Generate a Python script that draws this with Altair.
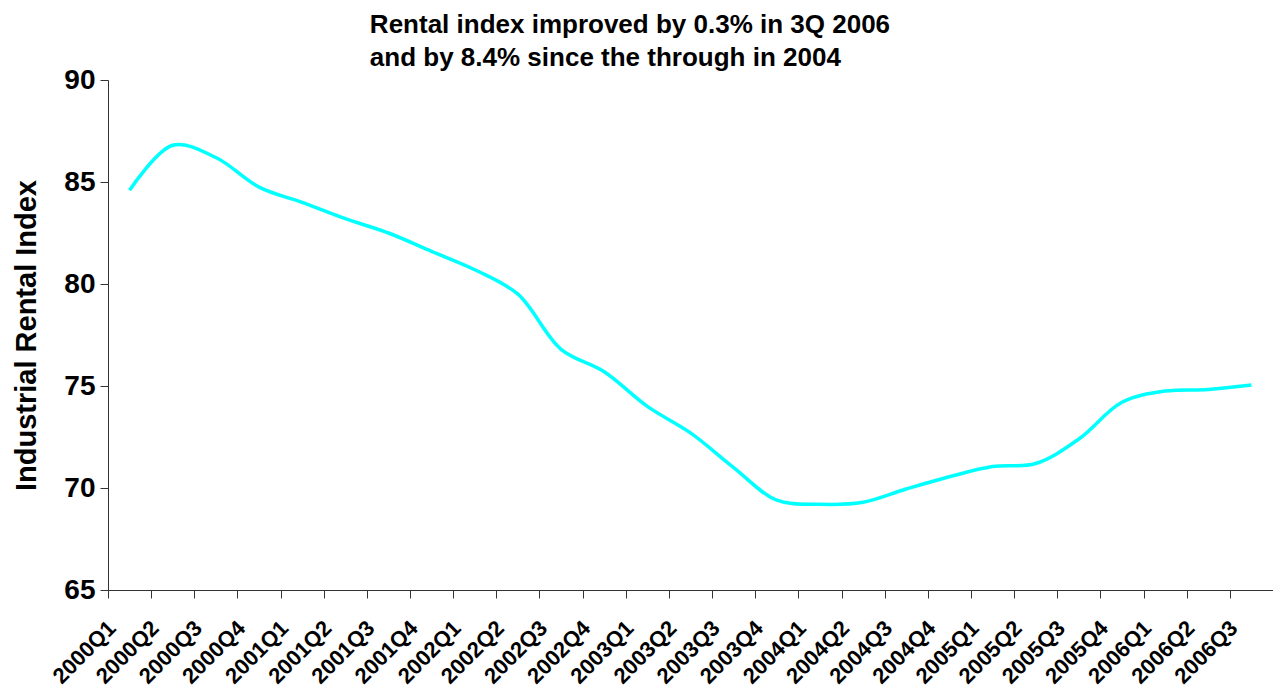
import altair as alt
import pandas as pd

quarters = [
    "2000Q1", "2000Q2", "2000Q3", "2000Q4",
    "2001Q1", "2001Q2", "2001Q3", "2001Q4",
    "2002Q1", "2002Q2", "2002Q3", "2002Q4",
    "2003Q1", "2003Q2", "2003Q3", "2003Q4",
    "2004Q1", "2004Q2", "2004Q3", "2004Q4",
    "2005Q1", "2005Q2", "2005Q3", "2005Q4",
    "2006Q1", "2006Q2", "2006Q3",
]
rental_index = [
    84.6, 86.8, 86.2, 84.75,
    84.0, 83.2, 82.5, 81.6,
    80.7, 79.5, 76.8, 75.7,
    74.0, 72.7, 71.0, 69.4,
    69.2, 69.3, 69.95, 70.55,
    71.05, 71.2, 72.4, 74.2,
    74.75, 74.83, 75.05,
]
title_lines = [
    "Rental index improved by 0.3% in 3Q 2006",
    "and by 8.4% since the through in 2004",
]
y_ticks = [65, 70, 75, 80, 85, 90]

df = pd.DataFrame({"quarter": quarters, "value": rental_index})

FONT = "Liberation Sans"
AX = "#333333"

chart = (
    alt.Chart(df)
    .mark_line(color="#00FFFF", strokeWidth=3.5, interpolate="catmull-rom")
    .encode(
        x=alt.X(
            "quarter:N",
            sort=quarters,
            bandPosition=0.5,
            scale=alt.Scale(type="band", paddingInner=0, paddingOuter=0),
            axis=alt.Axis(
                title=None,
                labelAngle=-45,
                tickBand="extent",
                labelFontSize=22,
                labelFont=FONT,
                labelFontWeight="bold",
                labelColor="black",
                tickSize=8,
                tickColor=AX,
                domainColor=AX,
                labelPadding=19,
                labelOffset=-25,
                labelOverlap=False,
            ),
        ),
        y=alt.Y(
            "value:Q",
            scale=alt.Scale(domain=[65, 90], nice=False, zero=False),
            axis=alt.Axis(
                title="Industrial Rental Index",
                values=y_ticks,
                grid=False,
                labelFontSize=28,
                labelFont=FONT,
                labelFontWeight="bold",
                labelColor="black",
                labelPadding=5,
                tickSize=8,
                tickColor=AX,
                domainColor=AX,
                titleFont=FONT,
                titleFontSize=29,
                titleFontWeight="bold",
                titleColor="black",
                titlePadding=22,
            ),
        ),
    )
    .properties(
        width=1165,
        height=510,
        title=alt.TitleParams(
            title_lines,
            anchor="start",
            dx=357,
            dy=15,
            fontSize=26,
            font=FONT,
            fontWeight="bold",
            color="black",
            lineHeight=33,
            offset=10,
        ),
        autosize=alt.AutoSizeParams(type="none"),
        padding={"left": 100, "top": 72, "right": 0, "bottom": 102},
    )
    .configure_view(stroke=None)
)

chart.save("out.html", embed_options={"renderer": "svg", "actions": False})
